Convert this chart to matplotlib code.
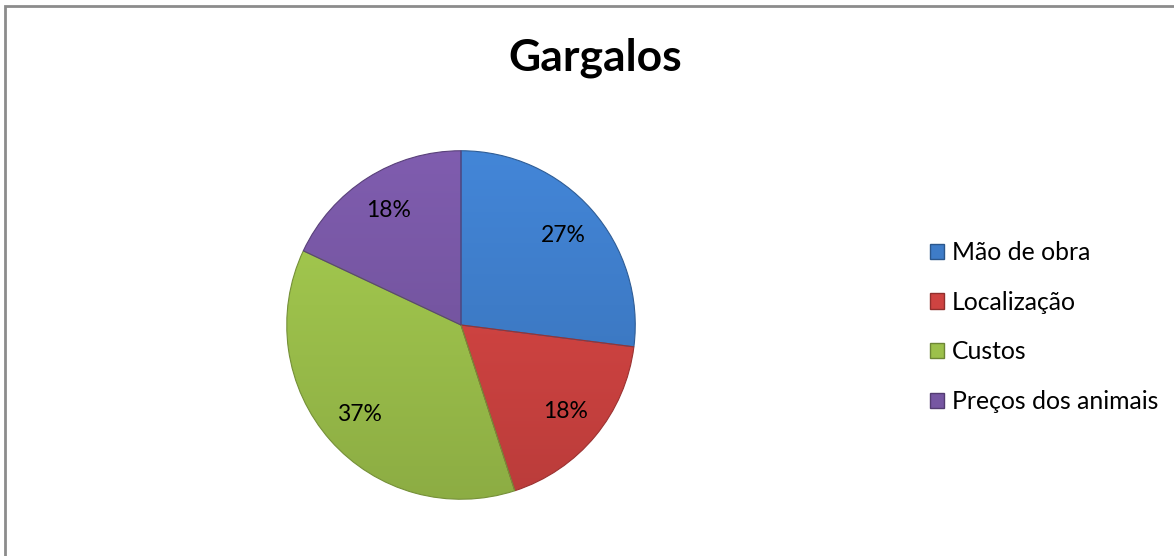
import numpy as np
import matplotlib
matplotlib.use("Agg")
import matplotlib.pyplot as plt
from matplotlib.patches import Rectangle, Patch
import matplotlib.colors as mcolors

categories = ["Mão de obra", "Localização", "Custos", "Preços dos animais"]
values = [27, 18, 37, 18]
colors = ["#3E7CC8", "#CF4341", "#9CC04B", "#7656A2"]
title = "Gargalos"

plt.rcParams['font.family'] = ['Lato', 'DejaVu Sans']

W, H = 1174, 556
fig = plt.figure(figsize=(W / 100, H / 100), dpi=100)
fig.patch.set_facecolor("white")

# border
fig.add_artist(Rectangle((5 / W, -0.1), 2.0, (H - 6) / H + 0.1, transform=fig.transFigure,
                         fill=False, edgecolor="#8C8C8C", linewidth=2.0))

cx, cy, r = 461, H - 325, 176
ax = fig.add_axes([(cx - r) / W, (cy - r) / H, 2 * r / W, 2 * r / H])
wedges, texts, autotexts = ax.pie(values, colors=colors, startangle=90, counterclock=False,
                                  autopct="%1.0f%%", pctdistance=0.78, radius=1.0,
                                  wedgeprops=dict(edgecolor="none", linewidth=0),
                                  textprops=dict(fontsize=16.5, color="black"))
# gradient shading clipped to wedges
yy, xx = np.mgrid[1:-1:300j, -1:1:300j]
shade = 1.08 - 0.18 * (1 - yy) / 2
for w, c in zip(wedges, colors):
    rgb = np.array(mcolors.to_rgb(c))
    img = np.clip(rgb[None, None, :] * shade[:, :, None], 0, 1)
    im = ax.imshow(img, extent=(-1, 1, -1, 1), zorder=2, interpolation="bilinear")
    im.set_clip_path(w)
    w.set_edgecolor(np.clip(rgb * 0.75, 0, 1))
    w.set_linewidth(0.8)
    w.set_facecolor("none")
    w.set_zorder(3)
for t in autotexts:
    t.set_zorder(5)
ax.set_xlim(-1.01, 1.01)
ax.set_ylim(-1.01, 1.01)
ax.set_aspect("equal")
ax.axis("off")

fig.text(595 / W, 1 - 58 / H, title, ha="center", va="center", fontsize=32, fontweight="bold")

handles = [Patch(facecolor=c, edgecolor=np.clip(np.array(mcolors.to_rgb(c)) * 0.7, 0, 1)) for c in colors]
leg = fig.legend(handles, categories, loc="upper left", bbox_to_anchor=(930 / W, 1 - 241 / H),
                 frameon=False, fontsize=17.8, handlelength=0.58, handleheight=0.58,
                 handletextpad=0.3, labelspacing=1.08, borderaxespad=0, borderpad=0)

fig.savefig("out.png", dpi=100, facecolor="white")
